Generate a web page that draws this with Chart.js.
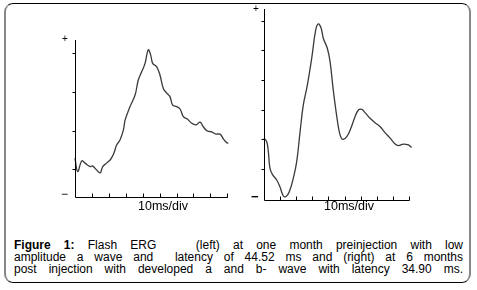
<!DOCTYPE html>
<html>
<head>
<meta charset="utf-8">
<script src="https://cdn.jsdelivr.net/npm/chart.js@4/dist/chart.umd.min.js"></script>
<style>
  html, body { margin: 0; padding: 0; background: #fff; }
  body { width: 477px; height: 290px; position: relative; overflow: hidden; font-family: "Liberation Sans", Arial, sans-serif; }
  #frame { position: absolute; left: 4px; top: 3px; width: 467px; height: 280px; box-sizing: border-box;
           border-top: 1.5px solid #000; border-bottom: 1.5px solid #000;
           border-left: 2px solid #888; border-right: 2px solid #888; border-radius: 9px; }
  .cv { position: absolute; }
  .lbl { position: absolute; color: #000; line-height: 1; white-space: nowrap; }
  .div10 { font-size: 12.5px; transform: translateX(-50%); }
  #caption { position: absolute; left: 14px; top: 240px; width: 449px; font-size: 12px; line-height: 11.8px; color: #000; }
  #caption div { text-align: justify; text-align-last: justify; white-space: nowrap; }
</style>
</head>
<body>
<div id="frame"></div>
<canvas id="leftChart" class="cv" width="190" height="195" style="left:55px;top:30px;width:190px;height:195px"></canvas>
<canvas id="rightChart" class="cv" width="190" height="220" style="left:245px;top:0px;width:190px;height:220px"></canvas>

<div class="lbl" style="left:62px;top:34px;font-size:10px;">+</div>
<div class="lbl" style="left:61px;top:188px;font-size:12px;">−</div>
<div class="lbl div10" style="left:163px;top:200px;">10ms/div</div>

<div class="lbl" style="left:253px;top:4px;font-size:10px;">+</div>
<div class="lbl" style="left:251px;top:190px;font-size:13px;font-weight:bold;">−</div>
<div class="lbl div10" style="left:349px;top:200px;">10ms/div</div>

<div id="caption">
  <div><b>Figure 1:</b> Flash ERG &nbsp;&nbsp;(left) at one month preinjection with low</div>
  <div>amplitude a wave and &nbsp;latency of 44.52 ms and (right) at 6 months</div>
  <div>post injection with developed a and b- wave with latency 34.90 ms.</div>
</div>

<script>
// ---- Data (time in divisions of 10 ms, amplitude in vertical divisions) ----
const leftTime = [0,0.16,0.40,0.59,0.89,1.02,1.18,1.48,1.64,1.87,2.11,2.30,2.46,2.66,2.86,2.96,3.25,3.55,3.74,3.94,4.14,4.33,4.47,4.59,4.83,5.02,5.22,5.42,5.61,5.77,6.01,6.21,6.40,6.64,6.90,7.15,7.39,7.58,7.82,8.08,8.33,8.57,8.81,9.06,9.36,9.56];
const leftAmp  = [0.29,-0.06,0.22,0.16,0.07,0.09,0.03,-0.09,0.07,0.16,0.26,0.42,0.63,0.76,1.02,1.27,1.62,1.92,2.31,2.52,2.74,3.09,2.96,2.74,2.65,2.44,2.09,1.97,1.88,1.66,1.62,1.56,1.36,1.30,1.19,1.15,1.22,1.10,0.99,0.97,0.91,0.91,0.76,0.67,0.70,0.65];

const rightTime = [0,0.17,0.27,0.37,0.52,0.79,0.99,1.20,1.37,1.57,1.82,2.03,2.24,2.44,2.69,2.96,3.21,3.37,3.54,3.68,3.93,4.10,4.30,4.55,4.72,4.89,5.14,5.39,5.65,5.86,6.07,6.27,6.58,6.89,7.20,7.52,7.83,8.14,8.34,8.65,8.96,9.17,9.38];
const rightAmp  = [1.04,0.92,0.58,0.02,-0.18,-0.37,-0.60,-0.91,-0.93,-0.77,-0.31,0.25,1.26,2.16,2.83,3.73,4.69,4.89,4.76,4.41,4.07,3.62,2.66,1.65,1.15,1.00,1.09,1.37,1.76,1.99,2.01,1.90,1.71,1.56,1.43,1.22,1.04,0.84,0.79,0.84,0.81,0.73,0.70];

const xTicks = [1,2,3,4,5,6,7,8,9];
const leftYTicks = [0,1,2,3];
const rightYTicks = [0,1,2,3,4,5];

function toXY(t, a) { return t.map((v, i) => ({ x: v, y: a[i] })); }

function axesPlugin(yTicks, yTickLen, xTickLen) {
  return {
    id: 'ergAxes',
    afterDraw(chart) {
      const ctx = chart.ctx, x = chart.scales.x, y = chart.scales.y;
      const x0 = Math.round(x.getPixelForValue(x.min)) + 0.5;
      const x1 = x.getPixelForValue(x.max);
      const yb = Math.round(y.getPixelForValue(y.min)) + 0.5;
      const yt = y.getPixelForValue(y.max);
      ctx.save();
      ctx.strokeStyle = '#000';
      ctx.lineWidth = 1;
      ctx.beginPath();
      ctx.moveTo(x0, yt); ctx.lineTo(x0, yb); ctx.lineTo(x1 + 0.5, yb);
      xTicks.forEach(v => {
        const px = Math.round(x.getPixelForValue(v)) + 0.5;
        ctx.moveTo(px, yb); ctx.lineTo(px, yb - xTickLen);
      });
      yTicks.forEach(v => {
        const py = Math.round(y.getPixelForValue(v)) + 0.5;
        ctx.moveTo(x0, py); ctx.lineTo(x0 - yTickLen, py);
      });
      ctx.stroke();
      ctx.restore();
    }
  };
}

function makeChart(id, t, a, yMin, yMax, yTicks, pad) {
  return new Chart(document.getElementById(id), {
    type: 'line',
    data: { datasets: [{ data: toXY(t, a), borderColor: '#3a3a3a', borderWidth: 1.3, pointRadius: 0, tension: 0.4, fill: false, clip: false }] },
    options: {
      responsive: false, animation: false, parsing: true,
      layout: { padding: pad },
      plugins: { legend: { display: false }, tooltip: { enabled: false }, title: { display: false } },
      scales: {
        x: { type: 'linear', min: 0, max: 9, display: false },
        y: { type: 'linear', min: yMin, max: yMax, display: false }
      }
    },
    plugins: [axesPlugin(yTicks, 3, 4)]
  });
}

makeChart('leftChart', leftTime, leftAmp, -0.724, 3.344, leftYTicks, { left: 20, right: 17.7, top: 10, bottom: 27.7 });
makeChart('rightChart', rightTime, rightAmp, -1.045, 5.394, rightYTicks, { left: 19, right: 26, top: 9, bottom: 20 });
</script>
</body>
</html>
